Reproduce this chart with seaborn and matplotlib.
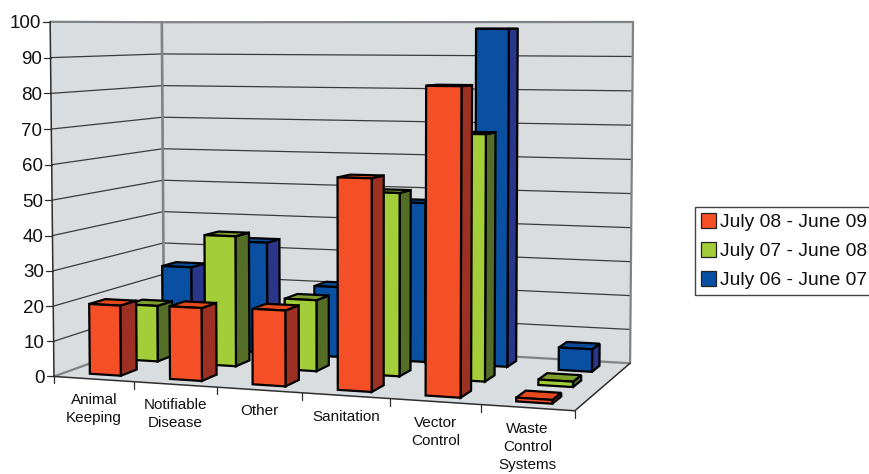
import numpy as np
import pandas as pd
import seaborn as sns
import matplotlib
matplotlib.use("Agg")
import matplotlib.pyplot as plt
from matplotlib.patches import Polygon, Patch

categories = ["Animal\nKeeping", "Notifiable\nDisease", "Other", "Sanitation",
              "Vector\nControl", "Waste\nControl\nSystems"]
july_08_june_09 = [20, 20.5, 21, 58, 83, 1]
july_07_june_08 = [16.5, 38, 20.5, 52, 69, 1.5]
july_06_june_07 = [25, 33.5, 21, 47, 98, 6.5]
y_ticks = list(range(0, 101, 10))

sns.set_theme(style="white")
plt.rcParams["font.family"] = ["Liberation Sans", "DejaVu Sans"]

frame = pd.DataFrame({
    "July 08 - June 09": july_08_june_09,
    "July 07 - June 08": july_07_june_08,
    "July 06 - June 07": july_06_june_07,
}, index=categories)

fronts = sns.color_palette(["#F44F26", "#A3CD39", "#0A50A2"])
sides = sns.color_palette(["#9C3022", "#546E27", "#2A3689"])
tops = sns.color_palette(["#E5491F", "#7F9E2F", "#0A4A98"])

W, H = 869, 474
fig = plt.figure(figsize=(W / 100, H / 100), dpi=100)
ax = fig.add_axes([0, 0, 1, 1])
ax.set_xlim(0, W)
ax.set_ylim(H, 0)
ax.axis("off")

# Camera calibration for the box: category axis, series depth, value axis.
anchors = [
    ((0, 0, 0), (54, 376)), ((6, 0, 0), (575, 411)),
    ((6, 3, 0), (630, 363)), ((0, 3, 0), (164, 337)),
    ((0, 0, 100), (50, 22)), ((0, 3, 100), (162, 22)),
    ((6, 3, 100), (633, 22)),
]
rows = []
for (a, b, c), (u, v) in anchors:
    p = [a, b, c / 100, 1]
    rows.append(p + [0, 0, 0, 0] + [-u * k for k in p])
    rows.append([0, 0, 0, 0] + p + [-v * k for k in p])
camera = np.linalg.svd(np.array(rows, float))[2][-1].reshape(3, 4)


def project(x, d, z):
    q = camera @ np.array([x, d, z / 100, 1.0])
    return q[0] / q[2], q[1] / q[2]


WALL = "#DADDE0"
EDGE = "#808284"
DARK = "#2E2E2E"

box = {
    "left": [(0, 0, 0), (0, 3, 0), (0, 3, 100), (0, 0, 100)],
    "back": [(0, 3, 0), (6, 3, 0), (6, 3, 100), (0, 3, 100)],
    "floor": [(0, 0, 0), (6, 0, 0), (6, 3, 0), (0, 3, 0)],
}
for corners in box.values():
    ax.add_patch(Polygon([project(*c) for c in corners], closed=True,
                         facecolor=WALL, edgecolor="none", zorder=1))


def segment(a, b, color, lw, zorder=2):
    pa, pb = project(*a), project(*b)
    ax.plot([pa[0], pb[0]], [pa[1], pb[1]], color=color, lw=lw, zorder=zorder,
            solid_capstyle="round")


# Value gridlines run along the side wall and across the back wall.
for z in y_ticks[1:-1]:
    segment((0, 0, z), (0, 3, z), "#3A3A3A", 0.9)
    segment((0, 3, z), (6, 3, z), "#3A3A3A", 0.9)

segment((0, 0, 100), (0, 3, 100), EDGE, 1.6)
segment((0, 3, 100), (6, 3, 100), EDGE, 1.6)
segment((0, 3, 0), (0, 3, 100), EDGE, 1.9)
segment((6, 3, 0), (6, 3, 100), EDGE, 1.6)
segment((0, 0, 0), (0, 3, 0), EDGE, 1.6)
segment((0, 3, 0), (6, 3, 0), EDGE, 1.6)
segment((0, 0, 0), (0, 0, 100), DARK, 1.1, 3)
segment((0, 0, 0), (6, 0, 0), DARK, 1.1, 3)
segment((6, 0, 0), (6, 3, 0), DARK, 1.1, 3)

# Value axis ticks and labels.
for z in y_ticks:
    px, py = project(0, 0, z)
    ax.plot([px - 7, px], [py, py], color=DARK, lw=0.9, zorder=3)
    ax.text(px - 9, py, str(z), ha="right", va="center_baseline",
            fontsize=13.5, color="#111111")

# Category ticks and wrapped labels under the front floor edge.
for i in range(len(categories) + 1):
    px, py = project(i, 0, 0)
    ax.plot([px, px], [py, py + 7], color=DARK, lw=0.9, zorder=3)
for i, label in enumerate(categories):
    px, py = project(i + 0.5, 0, 0)
    ax.text(px, py + 14, label, ha="center", va="top", fontsize=11,
            linespacing=1.36, color="#111111")

# Bars, painted from the back row to the front row.
BAR_WIDTH = 0.39
BAR_DEPTH = 0.42
for row in [2, 1, 0]:
    for i, value in enumerate(frame.iloc[:, row]):
        x0, x1 = i + 0.5 - BAR_WIDTH / 2, i + 0.5 + BAR_WIDTH / 2
        d0, d1 = row + 0.5 - BAR_DEPTH / 2, row + 0.5 + BAR_DEPTH / 2
        faces = [
            ([(x1, d0, 0), (x1, d1, 0), (x1, d1, value), (x1, d0, value)], sides[row]),
            ([(x0, d0, value), (x1, d0, value), (x1, d1, value), (x0, d1, value)], tops[row]),
            ([(x0, d0, 0), (x1, d0, 0), (x1, d0, value), (x0, d0, value)], fronts[row]),
        ]
        for corners, color in faces:
            ax.add_patch(Polygon([project(*c) for c in corners], closed=True,
                                 facecolor=color, edgecolor="black", lw=1.6,
                                 joinstyle="miter", zorder=5 + (2 - row)))

handles = [Patch(facecolor=fronts[k], edgecolor="#222222", lw=0.9,
                 label=frame.columns[k]) for k in range(3)]
legend = ax.legend(handles=handles, loc="upper left",
                   bbox_to_anchor=(695 / W, 1 - 207 / H), bbox_transform=ax.transAxes,
                   fontsize=13.9, frameon=True, fancybox=False, framealpha=1,
                   edgecolor="#444444", borderaxespad=0, borderpad=0.3,
                   handlelength=0.8, handleheight=0.85, handletextpad=0.2,
                   labelspacing=0.55, labelcolor="#111111")
legend.get_frame().set_linewidth(1.0)

fig.savefig("out.png", dpi=100, facecolor="white")
